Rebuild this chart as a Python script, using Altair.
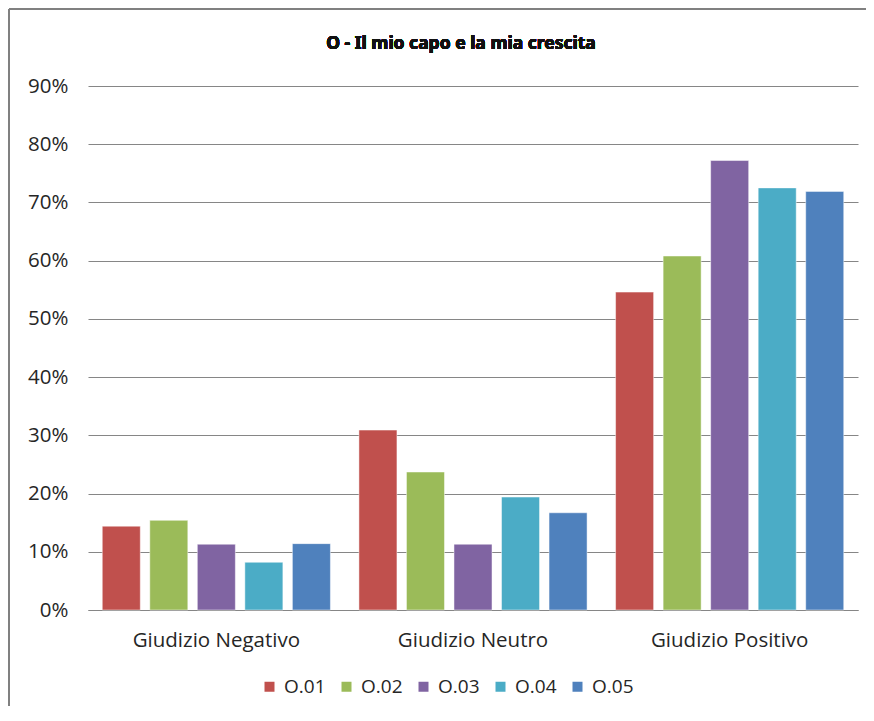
import altair as alt
import pandas as pd

categories = ["Giudizio Negativo", "Giudizio Neutro", "Giudizio Positivo"]
series = ["O.01", "O.02", "O.03", "O.04", "O.05"]
colors = ["#C0504D", "#9BBB59", "#8064A2", "#4BACC6", "#4F81BD"]
values = {
    "O.01": [0.144, 0.309, 0.546],
    "O.02": [0.154, 0.237, 0.608],
    "O.03": [0.113, 0.113, 0.772],
    "O.04": [0.082, 0.194, 0.725],
    "O.05": [0.114, 0.167, 0.719],
}
title_text = "O - Il mio capo e la mia crescita"

rows = []
for s in series:
    for c, v in zip(categories, values[s]):
        rows.append({"cat": c, "serie": s, "val": v})
df = pd.DataFrame(rows)

W, H = 770, 524
FONT = "Open Sans"
TXT = "#262626"

bars = alt.Chart(df).mark_bar(stroke="white", strokeWidth=0.8, strokeOpacity=0.6).encode(
    x=alt.X("cat:N", sort=categories, title=None,
            scale=alt.Scale(paddingInner=0, paddingOuter=0),
            axis=alt.Axis(labelAngle=0, labelFontSize=20.5, labelFont=FONT, labelColor=TXT,
                          labelPadding=20, ticks=False, domainColor="#868686", domainWidth=1.2,
                          grid=False)),
    xOffset=alt.XOffset("serie:N", sort=series,
                        scale=alt.Scale(paddingInner=0.2, paddingOuter=0.3)),
    y=alt.Y("val:Q", title=None,
            scale=alt.Scale(domain=[0, 0.9], nice=False),
            axis=alt.Axis(format=".0%", values=[i / 10 for i in range(10)], labelFontSize=20.5,
                          labelFont=FONT, labelColor=TXT, labelPadding=20, ticks=False,
                          domain=False, gridColor="#868686", gridWidth=1.2)),
    color=alt.Color("serie:N", sort=series,
                    scale=alt.Scale(domain=series, range=colors),
                    legend=alt.Legend(title=None, orient="none", direction="horizontal",
                                      legendX=172, legendY=591, symbolType="square",
                                      symbolSize=100, symbolStrokeWidth=0,
                                      labelFontSize=19, labelFont=FONT, labelColor=TXT,
                                      labelOffset=5, columnPadding=11)),
)

title = alt.Chart(df).mark_text(font="Noto Sans", fontSize=17.5, fontWeight="bold", color="#111111",
                                align="center", baseline="middle").encode(
    x=alt.value(W / 2 - 12), y=alt.value(-42), text=alt.value(title_text))

border_top = alt.Chart(df).mark_rule(color="#808080", strokeWidth=2).encode(
    x=alt.value(-79), x2=alt.value(W + 20), y=alt.value(-77))
border_left = alt.Chart(df).mark_rule(color="#808080", strokeWidth=2).encode(
    x=alt.value(-79), y=alt.value(-77), y2=alt.value(H + 100))

chart = alt.layer(bars, title, border_top, border_left).properties(
    width=W, height=H,
    autosize=alt.AutoSizeParams(type="none"),
    padding={"left": 80, "top": 78, "right": 8, "bottom": 96},
).configure(background="white").configure_view(stroke=None)

chart.save("out.html", embed_options={"renderer": "svg", "actions": False})
